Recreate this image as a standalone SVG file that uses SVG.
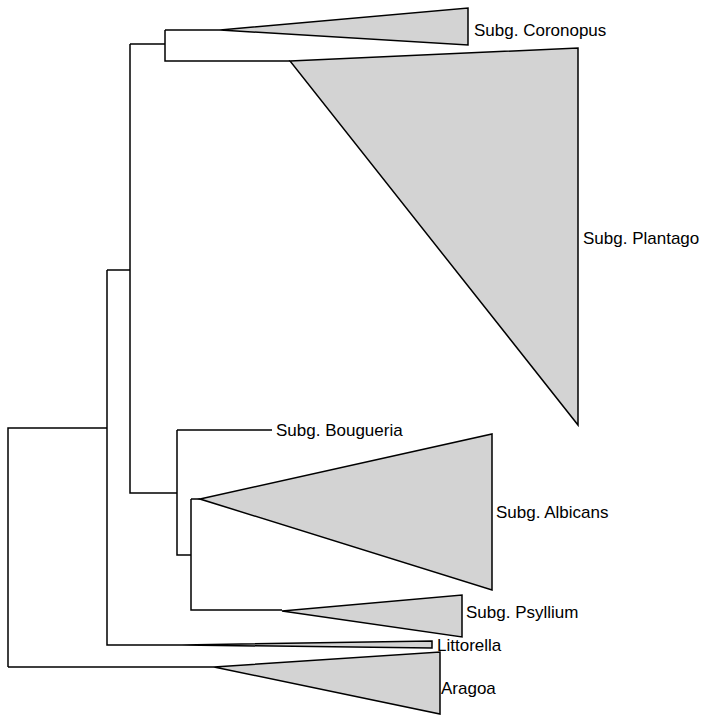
<svg xmlns="http://www.w3.org/2000/svg" width="710" height="724" viewBox="0 0 710 724">
<style>
.e{fill:none;stroke:#000;stroke-width:1.5}
.t{fill:#d3d3d3;stroke:#000;stroke-width:1.5;stroke-linejoin:miter}
text{font-family:"Liberation Sans",Arial,sans-serif;font-size:17px;fill:#000}
</style>
<rect width="710" height="724" fill="#fff"/>
<g id="connectors">
<path class="e" d="M8,667 V428 H107 M8,667 H214 M107,270 V645 H182 M107,270 H130 M130,44 V493 H177 M130,44 H165 M165,30 V61 H290 M165,30 H220 M177,430 V555 H191 M177,430 H272 M191,499 V610 H282 M191,499 H200"/>
</g>
<g id="coronopus"><polygon class="t" points="220,30 468,8 468,45"/><text x="474" y="36">Subg. Coronopus</text></g>
<g id="plantago"><polygon class="t" points="290,61 578,48 578,425"/><text x="583" y="244">Subg. Plantago</text></g>
<g id="bougueria"><text x="276" y="436">Subg. Bougueria</text></g>
<g id="albicans"><polygon class="t" points="200,499 492,434 492,590"/><text x="496" y="518">Subg. Albicans</text></g>
<g id="psyllium"><polygon class="t" points="282,611 462,595 462,637"/><text x="466" y="618">Subg. Psyllium</text></g>
<g id="littorella"><polygon class="t" points="182,645 432,641 432,648"/><text x="437" y="651">Littorella</text></g>
<g id="aragoa"><polygon class="t" points="214,667 440,652 440,714"/><text x="441" y="694">Aragoa</text></g>
</svg>
